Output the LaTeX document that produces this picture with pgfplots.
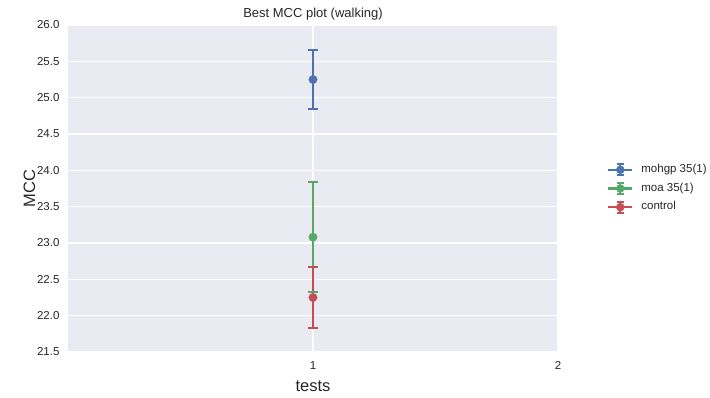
\documentclass[border=0pt]{standalone}
\usepackage{fontspec}
\setmainfont{Liberation Sans}
\usepackage{pgfplots}
\pgfplotsset{compat=1.18}

\definecolor{sbblue}{HTML}{4C72B0}
\definecolor{sbgreen}{HTML}{55A868}
\definecolor{sbred}{HTML}{C44E52}
\definecolor{sbbg}{HTML}{EAEAF2}
\definecolor{sbtext}{HTML}{262626}

% legend sample: line, error bar with caps, and a dot
\pgfplotsset{errleg/.style={legend image code/.code={
   \draw[#1,line width=2.2pt] (0pt,0pt) -- (24pt,0pt);
   \draw[#1,line width=2.2pt] (12pt,-5.5pt) -- (12pt,5.5pt);
   \draw[#1,line width=2.2pt] (8.5pt,-5.5pt) -- (15.5pt,-5.5pt);
   \draw[#1,line width=2.2pt] (8.5pt,5.5pt) -- (15.5pt,5.5pt);
   \fill[#1] (12pt,0pt) circle (4pt);
}}}

% vertical error bar from low to high value, with horizontal caps
\pgfplotsset{
  errbar/.style={color=#1, line width=2.2pt, mark=-, mark size=5pt,
    mark options={line width=2.2pt}, forget plot},
  meanpt/.style={color=#1, only marks, mark=*, mark size=4.3pt,
    mark options={draw=#1, fill=#1, line width=0.1pt}, errleg=#1},
}

\begin{document}
\begin{tikzpicture}
\useasboundingbox (-68pt,-46pt) rectangle (642pt,352pt);
\begin{axis}[
  at={(0pt,0pt)}, anchor=south west,
  scale only axis, width=490pt, height=327pt,
  xmin=0, xmax=2, ymin=21.5, ymax=26.0,
  xtick={1,2}, ytick={21.5,22.0,...,26.0},
  axis background/.style={fill=sbbg},
  axis line style={draw=none},
  major tick length=0pt,
  ymajorgrids,
  major grid style={white, line width=1.3pt},
  /pgf/number format/assume math mode=true,
  yticklabel style={/pgf/number format/fixed, /pgf/number format/fixed zerofill,
    /pgf/number format/precision=1, xshift=-5pt},
  ticklabel style={font=\fontsize{11.5}{13}\selectfont, text=sbtext},
  xticklabel style={yshift=-6pt},
  title={Best MCC plot (walking)},
  title style={font=\fontsize{13}{15}\selectfont, text=sbtext, at={(0.5,1)}, anchor=south, yshift=-5pt},
  xlabel={tests}, ylabel={MCC},
  label style={font=\fontsize{16.5}{19}\selectfont, text=sbtext},
  xlabel style={yshift=-4pt},
  ylabel style={yshift=-5pt},
  legend style={at={(1.1,0.578)}, anchor=north west, draw=none, fill=none,
    inner sep=0pt, row sep=5.5pt,
    nodes={inner sep=0pt, text height=8pt, text depth=2.5pt},
    font=\fontsize{11.5}{13}\selectfont, text=sbtext},
  legend cell align=left,
]
% vertical grid lines at the x ticks, kept beneath the data
\addplot[white, line width=1.3pt, forget plot] coordinates {(1,21.5) (1,26.0)};
\addplot[white, line width=1.3pt, forget plot] coordinates {(2,21.5) (2,26.0)};
% mohgp 35(1): 25.25 +- 0.405
\addplot[errbar=sbblue] coordinates {(1,24.845) (1,25.655)};
\addplot[meanpt=sbblue] coordinates {(1,25.25)};
\addlegendentry{\hspace{8pt}mohgp 35(1)}
% moa 35(1): 23.08 +- 0.755
\addplot[errbar=sbgreen] coordinates {(1,22.325) (1,23.835)};
\addplot[meanpt=sbgreen] coordinates {(1,23.08)};
\addlegendentry{\hspace{8pt}moa 35(1)}
% control: 22.25 +- 0.425
\addplot[errbar=sbred] coordinates {(1,21.825) (1,22.675)};
\addplot[meanpt=sbred] coordinates {(1,22.25)};
\addlegendentry{\hspace{8pt}control}
\end{axis}
\end{tikzpicture}
\end{document}
